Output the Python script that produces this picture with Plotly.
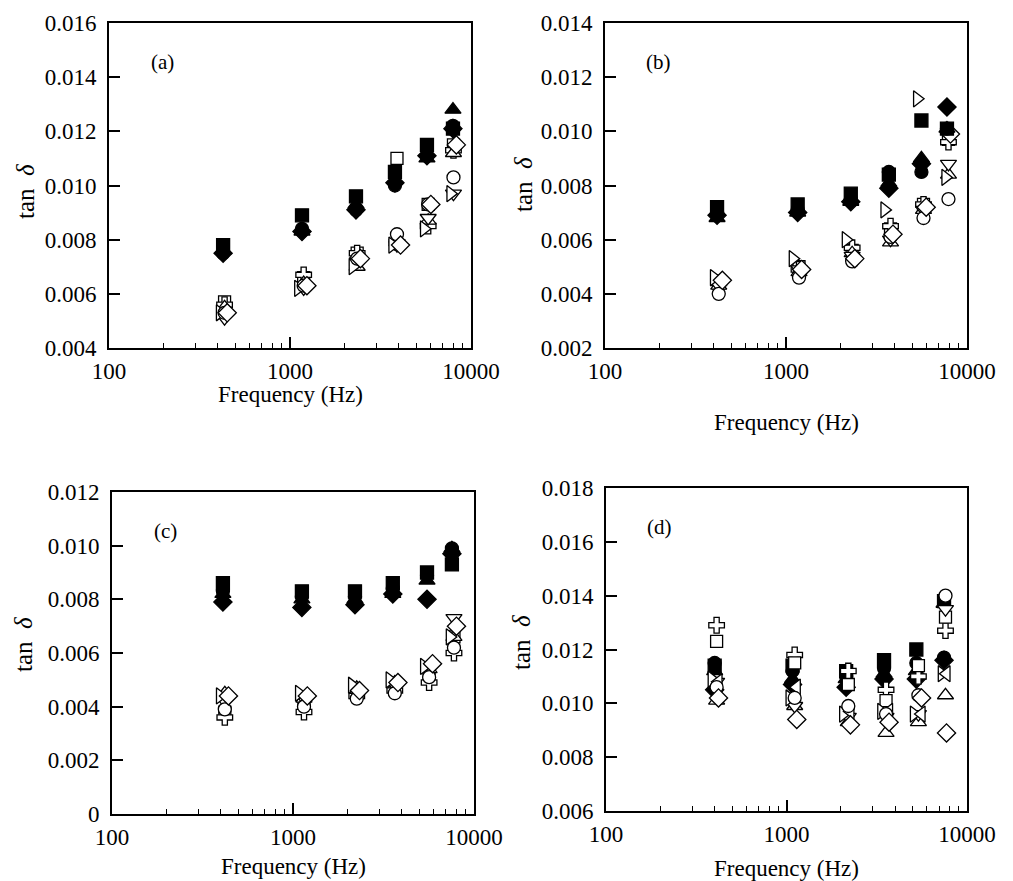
import plotly.graph_objects as go

# ---------------------------------------------------------------------------
# Loss factor (tan delta) versus frequency, four specimen sets (a)-(d).
# Each marker family was measured at slightly different resonance frequencies.
# ---------------------------------------------------------------------------

# Panel (a) frequencies (Hz)
A_F_FILLED = [427, 1165, 2315, 3800, 5710, 7950]
A_F_OPEN = [435, 1190, 2350, 3900, 5800, 8000]
A_F_RTRI = [410, 1110, 2220, 3680, 5500, 7700]
A_F_DIAM = [450, 1240, 2450, 4080, 6000, 8300]

# Panel (a) tan delta
A_SQUARE_F = [0.0078, 0.0089, 0.0096, 0.0105, 0.0115, 0.0121]
A_CIRCLE_F = [0.0075, 0.0084, 0.0091, 0.0100, 0.0111, 0.0122]
A_TRIUP_F = [0.0076, 0.0083, 0.0093, 0.0102, 0.0110, 0.0128]
A_DIAM_F = [0.0075, 0.0083, 0.0091, 0.0101, 0.0111, 0.0121]
A_SQUARE_O = [0.0057, 0.0066, 0.0075, 0.0110, 0.0093, 0.0115]
A_CIRCLE_O = [0.0053, 0.0063, 0.0073, 0.0082, 0.0093, 0.0103]
A_TRIUP_O = [0.0055, 0.0064, 0.0070, 0.0079, 0.0087, 0.0112]
A_TRIDN_O = [0.0051, 0.0062, 0.0072, 0.0078, 0.0088, 0.0097]
A_TRIRT_O = [0.0053, 0.0062, 0.0070, 0.0078, 0.0084, 0.0097]
A_DIAM_O = [0.0053, 0.0063, 0.0073, 0.0078, 0.0093, 0.0115]
A_CROSS_O = [0.0056, 0.0067, 0.0075, 0.0079, 0.0085, 0.0113]

# Panel (b) frequencies (Hz)
B_F_FILLED = [416, 1160, 2280, 3700, 5600, 7750]
B_F_OPEN = [425, 1180, 2320, 3780, 5750, 7900]
B_F_RTRI = [400, 1090, 2140, 3500, 5300, 7600]
B_F_DIAM = [445, 1220, 2400, 3900, 5950, 8100]

# Panel (b) tan delta
B_SQUARE_F = [0.0072, 0.0073, 0.0077, 0.0084, 0.0104, 0.0101]
B_CIRCLE_F = [0.0070, 0.0071, 0.0075, 0.0085, 0.0085, 0.0101]
B_TRIUP_F = [0.0068, 0.0070, 0.0074, 0.0081, 0.0090, 0.0101]
B_DIAM_F = [0.0069, 0.0070, 0.0074, 0.0079, 0.0088, 0.0109]
B_SQUARE_O = [0.0044, 0.0050, 0.0056, 0.0064, 0.0073, 0.0097]
B_CIRCLE_O = [0.0040, 0.0046, 0.0052, 0.0061, 0.0068, 0.0075]
B_TRIUP_O = [0.0043, 0.0048, 0.0055, 0.0059, 0.0071, 0.0084]
B_TRIDN_O = [0.0043, 0.0049, 0.0054, 0.0060, 0.0071, 0.0088]
B_TRIRT_O = [0.0046, 0.0053, 0.0060, 0.0071, 0.0112, 0.0083]
B_DIAM_O = [0.0045, 0.0049, 0.0053, 0.0062, 0.0072, 0.0099]
B_CROSS_O = [0.0044, 0.0049, 0.0057, 0.0065, 0.0073, 0.0096]

# Panel (c) frequencies (Hz)
C_F_FILLED = [410, 1120, 2200, 3560, 5500, 7550]
C_F_OPEN = [420, 1150, 2250, 3650, 5650, 7750]
C_F_RTRI = [395, 1080, 2120, 3420, 5300, 7350]
C_F_DIAM = [440, 1200, 2330, 3800, 5900, 8000]

# Panel (c) tan delta
C_SQUARE_F = [0.0086, 0.0083, 0.0083, 0.0086, 0.0090, 0.0093]
C_CIRCLE_F = [0.0083, 0.0081, 0.0081, 0.0084, 0.0089, 0.0099]
C_TRIUP_F = [0.0082, 0.0080, 0.0080, 0.0082, 0.0087, 0.0099]
C_DIAM_F = [0.0079, 0.0077, 0.0078, 0.0082, 0.0080, 0.0097]
C_SQUARE_O = [0.0038, 0.0040, 0.0045, 0.0047, 0.0052, 0.0066]
C_CIRCLE_O = [0.0039, 0.0040, 0.0043, 0.0045, 0.0051, 0.0062]
C_TRIUP_O = [0.0045, 0.0043, 0.0047, 0.0049, 0.0054, 0.0066]
C_TRIDN_O = [0.0042, 0.0043, 0.0046, 0.0048, 0.0055, 0.0073]
C_TRIRT_O = [0.0044, 0.0045, 0.0048, 0.0050, 0.0055, 0.0066]
C_DIAM_O = [0.0044, 0.0044, 0.0046, 0.0049, 0.0056, 0.0070]
C_CROSS_O = [0.0036, 0.0038, 0.0044, 0.0046, 0.0049, 0.0060]

# Panel (d) frequencies (Hz)
D_F_FILLED = [400, 1080, 2140, 3470, 5240, 7460]
D_F_OPEN = [410, 1110, 2200, 3560, 5380, 7600]
D_F_RTRI = [385, 1040, 2060, 3350, 5080, 7250]
D_F_DIAM = [420, 1140, 2260, 3700, 5600, 7700]

# Panel (d) tan delta
D_SQUARE_F = [0.0114, 0.0114, 0.0112, 0.0116, 0.0120, 0.0138]
D_CIRCLE_F = [0.0115, 0.0112, 0.0110, 0.0113, 0.0115, 0.0117]
D_TRIUP_F = [0.0112, 0.0109, 0.0109, 0.0111, 0.0112, 0.0137]
D_DIAM_F = [0.0105, 0.0107, 0.0106, 0.0109, 0.0109, 0.0116]
D_SQUARE_O = [0.0123, 0.0115, 0.0107, 0.0101, 0.0114, 0.0132]
D_CIRCLE_O = [0.0106, 0.0102, 0.0099, 0.0096, 0.0103, 0.0140]
D_TRIUP_O = [0.0101, 0.0099, 0.0093, 0.0089, 0.0093, 0.0103]
D_TRIDN_O = [0.0108, 0.0099, 0.0095, 0.0095, 0.0096, 0.0135]
D_TRIRT_O = [0.0109, 0.0102, 0.0096, 0.0097, 0.0096, 0.0111]
D_TRILT_O = [0.0108, 0.0106, 0.0097, 0.0097, 0.0096, 0.0111]
D_DIAM_O = [0.0102, 0.0094, 0.0092, 0.0093, 0.0102, 0.0089]
D_CROSS_O = [0.0129, 0.0118, 0.0112, 0.0105, 0.0110, 0.0127]

# Axis tick labels
X_TICKS = [100, 1000, 10000]
X_TICK_TEXT = ["100", "1000", "10000"]
A_Y_TICKS = [0.004, 0.006, 0.008, 0.010, 0.012, 0.014, 0.016]
B_Y_TICKS = [0.002, 0.004, 0.006, 0.008, 0.010, 0.012, 0.014]
C_Y_TICKS = [0.0, 0.002, 0.004, 0.006, 0.008, 0.010, 0.012]
D_Y_TICKS = [0.006, 0.008, 0.010, 0.012, 0.014, 0.016, 0.018]
C_Y_TICK_TEXT = ["0", "0.002", "0.004", "0.006", "0.008", "0.010", "0.012"]
PANEL_LABELS = ["(a)", "(b)", "(c)", "(d)"]
X_TITLE = "Frequency (Hz)"
Y_TITLE = "tan  <i>δ</i>"

# ---------------------------------------------------------------------------
W, H = 1013, 881
FONT = "Liberation Serif, Times New Roman, Times, DejaVu Serif, serif"


def px(x):
    return x / W


def py(y):
    return 1 - y / H


# marker styles: (plotly symbol, filled?, size)
STYLE = {
    "sq_o": ("square", False, 12),
    "cr_o": ("cross", False, 13),
    "tu_o": ("triangle-up", False, 14),
    "td_o": ("triangle-down", False, 14),
    "tl_o": ("triangle-left", False, 14),
    "tr_o": ("triangle-right", False, 14),
    "ci_o": ("circle", False, 13),
    "di_o": ("diamond", False, 14),
    "di_f": ("diamond", True, 14),
    "tu_f": ("triangle-up", True, 14),
    "sq_f": ("square", True, 13),
    "ci_f": ("circle", True, 13),
}

panels = [
    dict(
        freq=dict(f=A_F_FILLED, o=A_F_OPEN, r=A_F_RTRI, d=A_F_DIAM),
        series=[("sq_o", "o", A_SQUARE_O), ("cr_o", "o", A_CROSS_O),
                ("tu_o", "o", A_TRIUP_O), ("td_o", "o", A_TRIDN_O),
                ("tr_o", "r", A_TRIRT_O), ("ci_o", "o", A_CIRCLE_O),
                ("di_o", "d", A_DIAM_O), ("di_f", "f", A_DIAM_F),
                ("tu_f", "f", A_TRIUP_F), ("sq_f", "f", A_SQUARE_F),
                ("ci_f", "f", A_CIRCLE_F)],
        yrange=[0.004, 0.016], yticks=A_Y_TICKS, ytext=None,
        box=(109, 471, 23, 348), ytitle=(25, 192), xtitle_y=394,
    ),
    dict(
        freq=dict(f=B_F_FILLED, o=B_F_OPEN, r=B_F_RTRI, d=B_F_DIAM),
        series=[("sq_o", "o", B_SQUARE_O), ("cr_o", "o", B_CROSS_O),
                ("tu_o", "o", B_TRIUP_O), ("td_o", "o", B_TRIDN_O),
                ("tr_o", "r", B_TRIRT_O), ("ci_o", "o", B_CIRCLE_O),
                ("di_o", "d", B_DIAM_O), ("tu_f", "f", B_TRIUP_F),
                ("sq_f", "f", B_SQUARE_F), ("di_f", "f", B_DIAM_F),
                ("ci_f", "f", B_CIRCLE_F)],
        yrange=[0.002, 0.014], yticks=B_Y_TICKS, ytext=None,
        box=(605, 967, 23, 348), ytitle=(523, 185), xtitle_y=423,
    ),
    dict(
        freq=dict(f=C_F_FILLED, o=C_F_OPEN, r=C_F_RTRI, d=C_F_DIAM),
        series=[("sq_o", "o", C_SQUARE_O), ("cr_o", "o", C_CROSS_O),
                ("tu_o", "o", C_TRIUP_O), ("td_o", "o", C_TRIDN_O),
                ("tr_o", "r", C_TRIRT_O), ("ci_o", "o", C_CIRCLE_O),
                ("di_o", "d", C_DIAM_O), ("di_f", "f", C_DIAM_F),
                ("tu_f", "f", C_TRIUP_F), ("sq_f", "f", C_SQUARE_F),
                ("ci_f", "f", C_CIRCLE_F)],
        yrange=[0.0, 0.012], yticks=C_Y_TICKS, ytext=C_Y_TICK_TEXT,
        box=(112, 474, 492, 814), ytitle=(23, 645), xtitle_y=866,
    ),
    dict(
        freq=dict(f=D_F_FILLED, o=D_F_OPEN, r=D_F_RTRI, d=D_F_DIAM),
        series=[("sq_f", "f", D_SQUARE_F), ("tu_f", "f", D_TRIUP_F),
                ("ci_f", "f", D_CIRCLE_F), ("di_f", "f", D_DIAM_F),
                ("cr_o", "o", D_CROSS_O), ("sq_o", "o", D_SQUARE_O),
                ("tu_o", "o", D_TRIUP_O), ("td_o", "o", D_TRIDN_O),
                ("tr_o", "r", D_TRIRT_O), ("tl_o", "d", D_TRILT_O),
                ("ci_o", "o", D_CIRCLE_O), ("di_o", "d", D_DIAM_O)],
        yrange=[0.006, 0.018], yticks=D_Y_TICKS, ytext=None,
        box=(606, 967, 488, 811), ytitle=(521, 643), xtitle_y=868,
    ),
]

fig = go.Figure()
layout = dict(
    width=W, height=H,
    margin=dict(l=0, r=0, t=0, b=0, autoexpand=False),
    paper_bgcolor="white", plot_bgcolor="white",
    showlegend=False,
    font=dict(family=FONT, color="black"),
)
annotations = []
minor_vals = [v * 10 ** k for k in (2, 3) for v in range(2, 10)]

for i, p in enumerate(panels):
    n = "" if i == 0 else str(i + 1)
    xa, ya = "x" + n, "y" + n
    left, right, top, bottom = p["box"]

    for key, fkey, vals in p["series"]:
        sym, filled, size = STYLE[key]
        fig.add_trace(go.Scatter(
            x=p["freq"][fkey], y=vals, xaxis=xa, yaxis=ya, mode="markers",
            marker=dict(symbol=sym, size=size,
                        color="black" if filled else "white",
                        line=dict(color="black", width=1.3)),
            hoverinfo="x+y",
        ))

    layout["xaxis" + n] = dict(
        type="log", range=[2, 4], domain=[px(left), px(right)], anchor=ya,
        tickmode="array", tickvals=X_TICKS, ticktext=X_TICK_TEXT,
        ticks="inside", ticklen=11, tickwidth=1.5, tickcolor="black",
        minor=dict(tickmode="array", tickvals=minor_vals, ticks="inside",
                   ticklen=5, tickwidth=1.3, tickcolor="black", showgrid=False),
        showline=True, linewidth=2, linecolor="black", mirror=True,
        showgrid=False, zeroline=False, automargin=False, ticklabelstandoff=1,
        tickfont=dict(family=FONT, size=23, color="black"),
    )
    ytext = p["ytext"] or ["%.3f" % v for v in p["yticks"]]
    layout["yaxis" + n] = dict(
        range=p["yrange"], domain=[py(bottom), py(top)], anchor=xa,
        tickmode="array", tickvals=p["yticks"], ticktext=ytext,
        ticks="inside", ticklen=11, tickwidth=1.5, tickcolor="black",
        showline=True, linewidth=2, linecolor="black", mirror=True,
        showgrid=False, zeroline=False, automargin=False, ticklabelstandoff=6,
        tickfont=dict(family=FONT, size=23, color="black"),
    )

    # panel letter
    annotations.append(dict(
        text=PANEL_LABELS[i], xref="paper", yref="paper",
        x=px(left + 53), y=py(top + 39), xanchor="center", yanchor="middle",
        showarrow=False, font=dict(family=FONT, size=21, color="black"),
    ))
    # x-axis title
    annotations.append(dict(
        text=X_TITLE, xref="paper", yref="paper",
        x=px((left + right) / 2), y=py(p["xtitle_y"]),
        xanchor="center", yanchor="middle", showarrow=False,
        font=dict(family=FONT, size=23, color="black"),
    ))
    # y-axis title
    ytx, yty = p["ytitle"]
    annotations.append(dict(
        text=Y_TITLE, xref="paper", yref="paper",
        x=px(ytx), y=py(yty), xanchor="center", yanchor="middle",
        textangle=-90, showarrow=False,
        font=dict(family=FONT, size=25, color="black"),
    ))

layout["annotations"] = annotations
fig.update_layout(**layout)
fig.write_html("out.html")
